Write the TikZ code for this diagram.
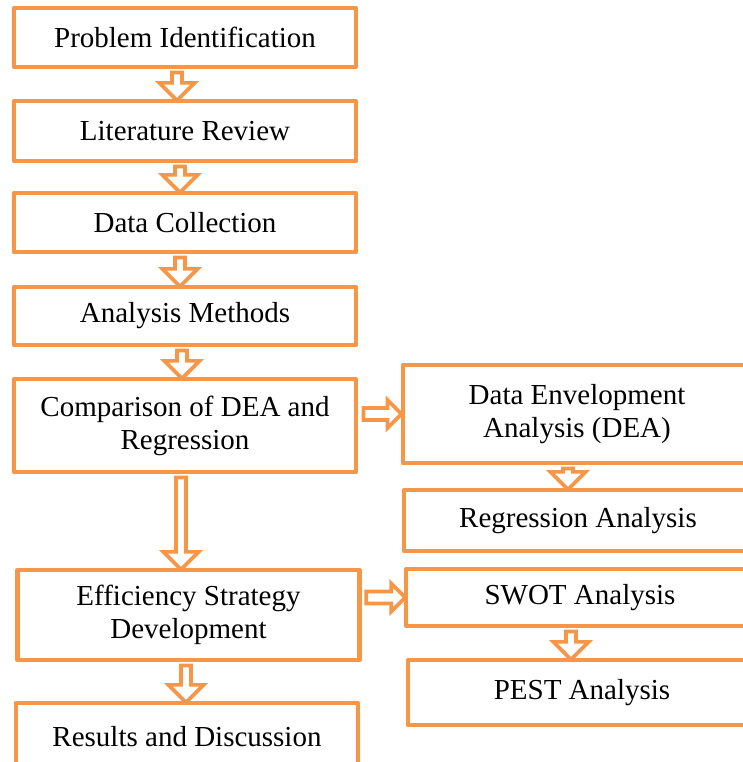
\documentclass[tikz,border=0pt]{standalone}
\usepackage{fontspec}
\setmainfont{Liberation Serif}
\usetikzlibrary{shapes.arrows}
\definecolor{accent}{RGB}{247,150,70}
\tikzset{
  box/.style={draw=accent, line width=2.2pt, line join=round, fill=white,
    minimum width=171pt, minimum height=#1, align=center, inner sep=0pt,
    font=\fontsize{14.5}{16.5}\selectfont},
  rbox/.style={box=#1, minimum width=174pt},
  downarr/.style={single arrow, draw=accent, fill=white, line width=1.8pt,
    shape border rotate=270, inner sep=1.6pt, single arrow head extend=6.3pt,
    minimum height=#1},
  rightarr/.style={single arrow, draw=accent, fill=white, line width=1.8pt,
    inner sep=2.1pt, single arrow head extend=4pt, minimum height=#1}
}
\begin{document}
\begin{tikzpicture}[x=0.5pt,y=-0.5pt]
\useasboundingbox (0,0) rectangle (743,762);
\node[box=29.5pt] (prob) at (185,37.5) {Problem Identification};
\node[box=30pt] (lit) at (185,131) {Literature Review};
\node[box=29.5pt] (data) at (185,222.5) {Data Collection};
\node[box=29pt] (meth) at (185,316) {Analysis Methods};
\node[box=46.5pt] (comp) at (185,425.5) {Comparison of DEA and\\Regression};
\node[box=45pt] (eff) at (188.5,615) {Efficiency Strategy\\Development};
\node[box=33.5pt] (res) at (187,736.5) {Results and Discussion};
\node[rbox=49pt] (dea) at (577,414) {Data Envelopment\\Analysis (DEA)};
\node[rbox=30.5pt] (reg) at (578,520.5) {Regression Analysis};
\node[rbox=28.5pt] (swot) at (580,597.5) {SWOT Analysis};
\node[rbox=32.5pt] (pest) at (582,692.5) {PEST Analysis};
\path (177,0 |- prob.south) -- node[downarr=14pt]{} (177,0 |- lit.north);
\path (180,0 |- lit.south) -- node[downarr=13pt]{} (180,0 |- data.north);
\path (180,0 |- data.south) -- node[downarr=14.5pt]{} (180,0 |- meth.north);
\path (182,0 |- meth.south) -- node[downarr=14pt]{} (182,0 |- comp.north);
\path (181,0 |- comp.south) -- node[downarr=46pt]{} (181,0 |- eff.north);
\path (186,0 |- eff.south) -- node[downarr=18.5pt]{} (186,0 |- res.north);
\path (comp.east |- dea.west) -- node[rightarr=19pt]{} (dea.west);
\path (eff.east |- swot.west) -- node[rightarr=19.5pt]{} (swot.west);
\path (568,0 |- dea.south) -- node[downarr=10.5pt]{} (568,0 |- reg.north);
\path (571,0 |- swot.south) -- node[downarr=14pt]{} (571,0 |- pest.north);
\end{tikzpicture}
\end{document}
